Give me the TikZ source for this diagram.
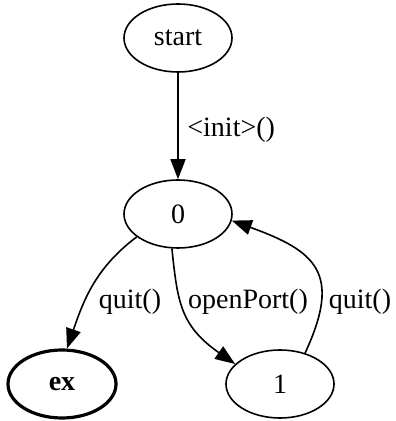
\documentclass[tikz,border=0pt]{standalone}
\usepackage{fontspec}
\setmainfont{Liberation Serif}
\usepackage{tikz}
\usetikzlibrary{shapes.geometric, arrows.meta, positioning}

\tikzset{
  state/.style={draw, ellipse, line width=0.8pt, minimum width=54pt, minimum height=34pt, inner sep=0pt, font=\fontsize{14pt}{16pt}\selectfont},
  final/.style={state, line width=1.6pt, font=\fontsize{14pt}{16pt}\selectfont\bfseries},
  trans/.style={-{Triangle[length=10pt, width=7.5pt]}, line width=0.8pt},
  lbl/.style={inner sep=0pt, font=\fontsize{14pt}{16pt}\selectfont}
}

\begin{document}
\begin{tikzpicture}[x=0.5pt, y=0.5pt]
  \useasboundingbox (0,0) rectangle (395,421);
  \node[state] (start) at (178,383) {start};
  \node[state] (s0) at (178,207) {0};
  \node[final] (ex) at (62,37) {ex};
  \node[state] (s1) at (280,37) {1};

  \node[lbl, anchor=west] (lInit) at (187,291) {<init>()};
  \node[lbl] (lQuitEx) at (130,119) {quit()};
  \node[lbl] (lOpen) at (248,119) {openPort()};
  \node[lbl] (lQuitBack) at (360,119) {quit()};

  \draw[trans] (start) -- (s0);
  \draw[trans] (s0.209) to[out=217, in=71] (ex.82);
  \draw[trans] (s0.260) to[out=276, in=145, out looseness=1.05, in looseness=1.3] (s1.156);
  \draw[trans] (s1.51) to[out=65, in=-20, looseness=1.5] (s0.353);
\end{tikzpicture}
\end{document}
